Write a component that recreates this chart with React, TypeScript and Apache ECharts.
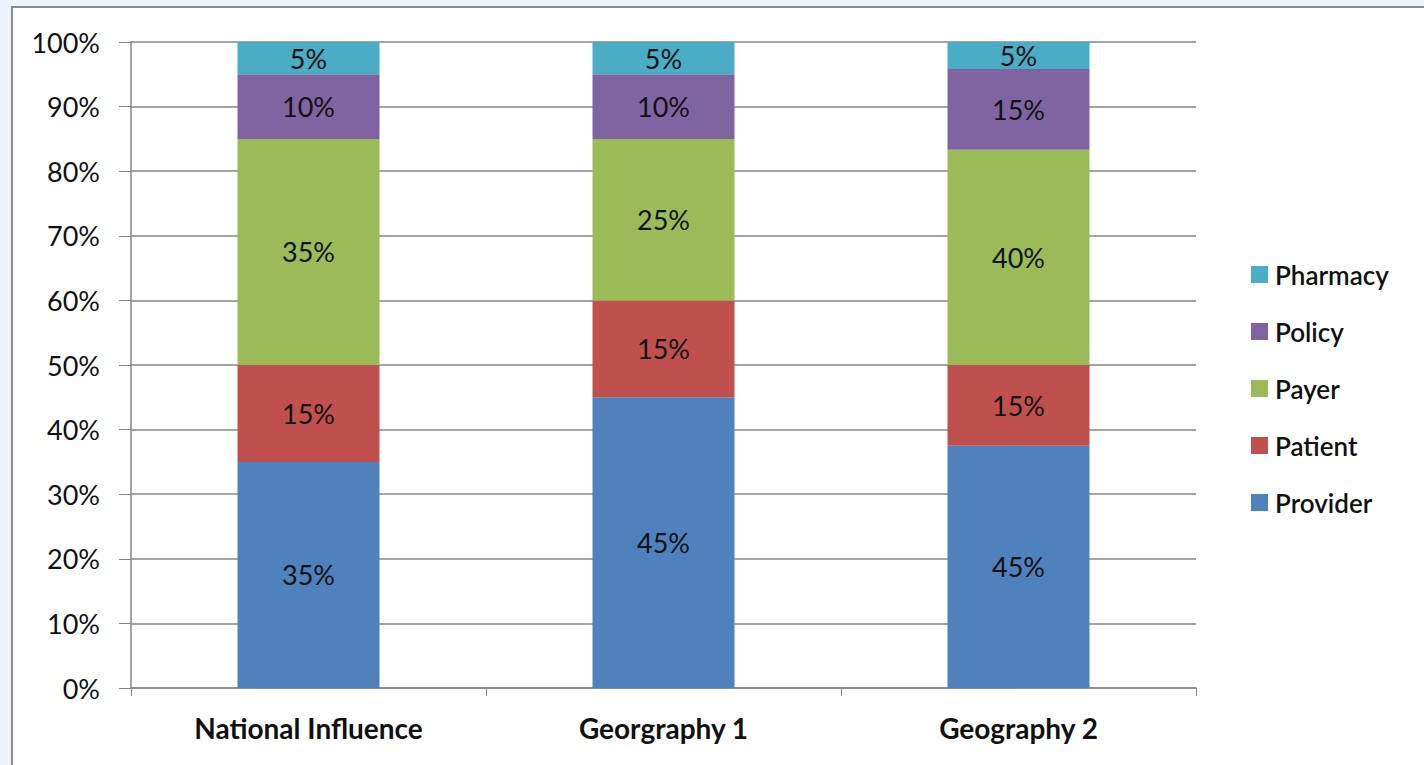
import React, { useEffect, useRef } from "react";
import * as echarts from "echarts";

const categories = ["National Influence", "Georgraphy 1", "Geography 2"];
const seriesNames = ["Provider", "Patient", "Payer", "Policy", "Pharmacy"];
const provider = [35, 45, 45];
const patient = [15, 15, 15];
const payer = [35, 25, 40];
const policy = [10, 10, 15];
const pharmacy = [5, 5, 5];
const colors = ["#4F81BD", "#C0504D", "#9BBB59", "#8064A2", "#4BACC6"];
const yTicks = [0, 10, 20, 30, 40, 50, 60, 70, 80, 90, 100];

const FONT = "Lato, 'Noto Sans', sans-serif";

export default function App() {
  const ref = useRef<HTMLDivElement>(null);
  useEffect(() => {
    if (!ref.current) return;
    const chart = echarts.init(ref.current, null, { renderer: "svg" });
    const raw = [provider, patient, payer, policy, pharmacy];
    const totals = categories.map((_, i) => raw.reduce((s, arr) => s + arr[i], 0));
    const series = raw.map((arr, si) => ({
      name: seriesNames[si],
      type: "bar",
      stack: "total",
      barWidth: "40%",
      itemStyle: { color: colors[si] },
      data: arr.map((v, i) => (v / totals[i]) * 100),
      label: {
        show: true,
        position: "inside",
        color: "#111",
        fontFamily: FONT,
        fontSize: 27,
        formatter: (p: any) => raw[si][p.dataIndex] + "%",
      },
    }));
    chart.setOption({
      animation: false,
      backgroundColor: "#eef3f9",
      graphic: [
        {
          type: "rect",
          z: -10,
          shape: { x: 12, y: 7, width: 1440, height: 800 },
          style: { fill: "#ffffff", stroke: "#8c8c8c", lineWidth: 2 },
        },
      ],
      grid: { left: 131, top: 42, right: 228, bottom: 77 },
      legend: {
        orient: "vertical",
        left: 1246,
        top: 256,
        itemWidth: 17,
        itemHeight: 17,
        itemGap: 30,
        icon: "rect",
        data: [...seriesNames].reverse(),
        textStyle: {
          fontFamily: FONT,
          fontSize: 26,
          fontWeight: 600,
          lineHeight: 27,
          color: "#111",
          padding: [0, 0, 0, 2],
        },
      },
      xAxis: {
        type: "category",
        data: categories,
        axisLine: { lineStyle: { color: "#868686", width: 1.5 } },
        axisTick: { show: true, length: 8, lineStyle: { color: "#868686" } },
        axisLabel: {
          margin: 26,
          fontFamily: FONT,
          fontWeight: "bold",
          fontSize: 28,
          color: "#111",
        },
      },
      yAxis: {
        type: "value",
        min: 0,
        max: 100,
        interval: 10,
        axisLine: { show: true, lineStyle: { color: "#868686", width: 1.5 } },
        axisTick: { show: true, length: 12, lineStyle: { color: "#868686" } },
        splitLine: { lineStyle: { color: "#868686", width: 1.5 } },
        axisLabel: {
          margin: 31,
          fontFamily: FONT,
          fontSize: 27,
          color: "#111",
          formatter: (v: number) => (yTicks.includes(v) ? v + "%" : ""),
        },
      },
      series,
    });
    return () => chart.dispose();
  }, []);
  return (
    <div
      ref={ref}
      style={{ position: "fixed", left: 0, top: 0, width: 1424, height: 765 }}
    />
  );
}
